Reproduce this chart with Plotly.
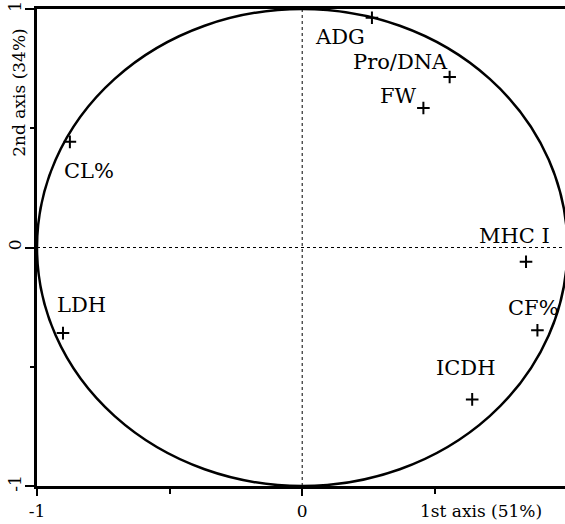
import plotly.graph_objects as go

# ---- data (correlation circle coordinates) ----
variables = ["ADG", "Pro/DNA", "FW", "CL%", "MHC I", "CF%", "ICDH", "LDH"]
axis1 = [0.263, 0.556, 0.457, -0.876, 0.844, 0.887, 0.641, -0.902]
axis2 = [0.963, 0.715, 0.585, 0.443, -0.060, -0.347, -0.637, -0.359]

x_title = "1st axis (51%)"
y_title = "2nd axis (34%)"

# label offsets (pixels) relative to each point
label_dx = [-32, -49, -25, 19, -12, -4, -6, 19]
label_dy = [19, -15, -12, 29, -26, -22, -31, -28]

FONT = "DejaVu Serif"

fig = go.Figure()

fig.add_trace(go.Scatter(
    x=axis1, y=axis2, mode="markers",
    marker=dict(symbol="cross-thin", size=9, color="black",
                line=dict(color="black", width=2)),
    hoverinfo="text", text=variables, showlegend=False,
))

annotations = []
for name, xv, yv, dx, dy in zip(variables, axis1, axis2, label_dx, label_dy):
    annotations.append(dict(
        x=xv, y=yv, xref="x", yref="y", text=name, showarrow=False,
        xshift=dx, yshift=-dy, font=dict(family=FONT, size=21, color="black"),
        xanchor="center", yanchor="middle",
    ))

# axis titles
annotations.append(dict(
    x=0.675, y=0, xref="x", yref="paper", text=x_title, showarrow=False,
    yshift=-25, xanchor="center", yanchor="middle",
    font=dict(family=FONT, size=17, color="black"),
))
annotations.append(dict(
    x=0, y=0.649, xref="paper", yref="y", text=y_title, showarrow=False,
    xshift=-18, textangle=-90, xanchor="center", yanchor="middle",
    font=dict(family=FONT, size=17, color="black"),
))
# the partially visible "1" tick at the right edge
annotations.append(dict(
    x=1, y=0, xref="x", yref="paper", text="1", showarrow=False,
    yshift=-25, xanchor="center", yanchor="middle",
    font=dict(family=FONT, size=17, color="black"),
))

shapes = [
    dict(type="circle", xref="x", yref="y", x0=-1, x1=1, y0=-1, y1=1,
         line=dict(color="black", width=2.5)),
    dict(type="line", xref="x", yref="y", x0=0, x1=0, y0=-1, y1=1,
         line=dict(color="black", width=1, dash="dot")),
    dict(type="line", xref="x", yref="y", x0=-1, x1=1, y0=0, y1=0,
         line=dict(color="black", width=1, dash="dot")),
]

fig.update_layout(
    width=565, height=524,
    margin=dict(l=37, r=0, t=9, b=38, pad=0),
    paper_bgcolor="white", plot_bgcolor="white",
    annotations=annotations, shapes=shapes,
    font=dict(family=FONT, size=17, color="black"),
)

fig.update_xaxes(
    range=[-1, 0.991], showgrid=False, zeroline=False,
    showline=True, linecolor="black", linewidth=2.5, mirror=True,
    tickmode="array", tickvals=[-1, 0], ticktext=["-1", "0"],
    ticks="outside", ticklen=7, tickwidth=2, tickcolor="black",
    minor=dict(tickvals=[-0.5, 0.5], ticks="outside", ticklen=5,
               tickwidth=2, tickcolor="black", showgrid=False),
    tickfont=dict(family=FONT, size=17, color="black"),
    ticklabelstandoff=1,
    automargin=False, fixedrange=True,
)

fig.update_yaxes(
    range=[-1, 1], showgrid=False, zeroline=False,
    showline=True, linecolor="black", linewidth=2.5, mirror=False,
    tickmode="array", tickvals=[-1, 0, 1], ticktext=["-1", "0", "1"],
    ticks="outside", ticklen=9, tickwidth=2, tickcolor="black",
    minor=dict(tickvals=[-0.5, 0.5], ticks="outside", ticklen=4,
               tickwidth=2, tickcolor="black", showgrid=False),
    tickangle=-90,
    tickfont=dict(family=FONT, size=17, color="black"),
    ticklabelstandoff=-3,
    automargin=False, fixedrange=True,
)

# remove the browser's default 8px body margin so the figure fills the window
fig.write_html("out.html", config={"displayModeBar": False},
               post_script="document.body.style.margin='0';")
